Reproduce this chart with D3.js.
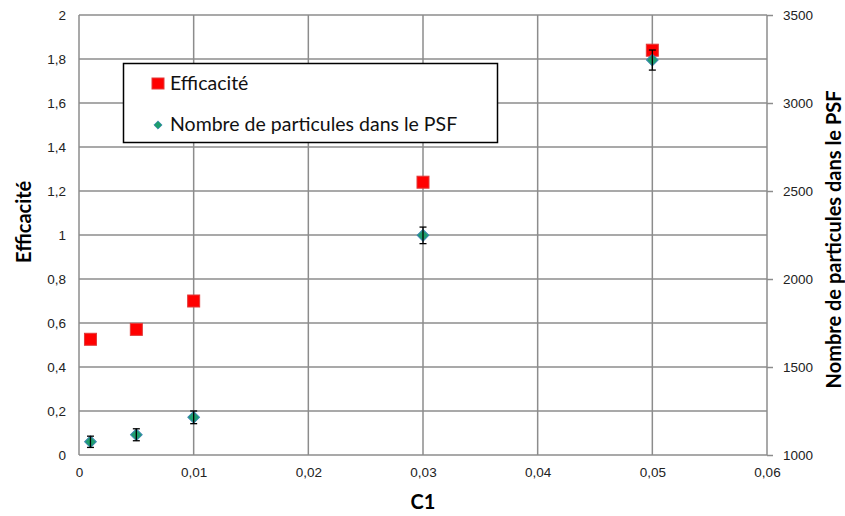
<!DOCTYPE html>
<html>
<head>
<meta charset="utf-8">
<script src="https://cdn.jsdelivr.net/npm/d3@7"></script>
<style>
  body { margin: 0; background: #fff; }
  svg { display: block; font-family: Lato, "Open Sans", sans-serif; }
</style>
</head>
<body>
<svg id="chart" width="845" height="516"></svg>
<script>
// données
var c1 = [0.001, 0.005, 0.01, 0.03, 0.05];
var efficacite = [0.526, 0.571, 0.70, 1.24, 1.84];
var nbParticules = [1075, 1115, 1214, 2248, 3244];
var nbErreur = [32, 34, 36, 47, 57];

var xTicks = [0, 0.01, 0.02, 0.03, 0.04, 0.05, 0.06];
var yTicks = [0, 0.2, 0.4, 0.6, 0.8, 1, 1.2, 1.4, 1.6, 1.8, 2];
var y2Ticks = [1000, 1500, 2000, 2500, 3000, 3500];

var serieNames = ["Efficacité", "Nombre de particules dans le PSF"];

var margin = { top: 15, right: 78, bottom: 61, left: 79 };
var width = 845, height = 516;

var fr = d3.formatLocale({ decimal: ",", thousands: "", grouping: [3], currency: ["", "€"] });
var fmt = function(d) { return fr.format("~g")(d); };

var svg = d3.select("#chart");

var x = d3.scaleLinear()
	.domain([0, 0.06])
	.range([margin.left, width - margin.right]);

var y = d3.scaleLinear()
	.domain([0, 2])
	.range([height - margin.bottom, margin.top]);

var y2 = d3.scaleLinear()
	.domain([1000, 3500])
	.range([height - margin.bottom, margin.top]);

var gridColor = "#8c8c8c";

// grille horizontale
svg.append("g")
	.selectAll("line")
	.data(yTicks)
	.enter().append("line")
	.attr("x1", x(0))
	.attr("x2", x(0.06))
	.attr("y1", function(d) { return y(d); })
	.attr("y2", function(d) { return y(d); })
	.attr("stroke", gridColor)
	.attr("stroke-width", 1.5);

// grille verticale
svg.append("g")
	.selectAll("line")
	.data(xTicks)
	.enter().append("line")
	.attr("x1", function(d) { return x(d); })
	.attr("x2", function(d) { return x(d); })
	.attr("y1", y(0))
	.attr("y2", y(2))
	.attr("stroke", gridColor)
	.attr("stroke-width", 1.5);

// axe gauche
var yAxis = svg.append("g")
	.attr("transform", "translate(" + margin.left + ",0)")
	.call(d3.axisLeft(y).tickValues(yTicks).tickFormat(fmt).tickSize(0).tickPadding(13));
yAxis.select(".domain").remove();
yAxis.selectAll("text").attr("font-size", 13.5).attr("fill", "#222");

// axe droit
var y2Axis = svg.append("g")
	.attr("transform", "translate(" + (width - margin.right) + ",0)")
	.call(d3.axisRight(y2).tickValues(y2Ticks).tickFormat(d3.format("d")).tickSize(6).tickPadding(10));
y2Axis.select(".domain").remove();
y2Axis.selectAll("line").attr("stroke", gridColor).attr("stroke-width", 1.5);
y2Axis.selectAll("text").attr("font-size", 13.5).attr("fill", "#222");

// axe bas
var xAxis = svg.append("g")
	.attr("transform", "translate(0," + (height - margin.bottom) + ")")
	.call(d3.axisBottom(x).tickValues(xTicks).tickFormat(fmt).tickSize(0).tickPadding(12));
xAxis.select(".domain").remove();
xAxis.selectAll("text").attr("font-size", 13.5).attr("fill", "#222");

// titres des axes
svg.append("text")
	.attr("transform", "translate(31," + y(1.06) + ") rotate(-90)")
	.attr("text-anchor", "middle")
	.attr("font-size", 20)
	.attr("font-weight", "bold")
	.text("Efficacité");

svg.append("text")
	.attr("x", x(0.03))
	.attr("y", 509)
	.attr("text-anchor", "middle")
	.attr("font-size", 20)
	.attr("font-weight", "bold")
	.text("C1");

svg.append("text")
	.attr("transform", "translate(841," + y(0.98) + ") rotate(-90)")
	.attr("text-anchor", "middle")
	.attr("font-size", 20)
	.attr("font-weight", "bold")
	.text(serieNames[1]);

// série Efficacité (carrés rouges)
svg.append("g")
	.selectAll("rect")
	.data(c1)
	.enter().append("rect")
	.attr("x", function(d) { return x(d) - 6; })
	.attr("y", function(d, i) { return y(efficacite[i]) - 6; })
	.attr("width", 12)
	.attr("height", 12)
	.attr("fill", "#ff0000")
	.attr("stroke", "#e23a3a")
	.attr("stroke-width", 1);

// série Nombre de particules (losanges verts)
svg.append("g")
	.selectAll("path")
	.data(c1)
	.enter().append("path")
	.attr("transform", function(d, i) {
		return "translate(" + x(d) + "," + y2(nbParticules[i]) + ") rotate(45)";
	})
	.attr("d", d3.symbol().type(d3.symbolSquare).size(68))
	.attr("fill", "#1e9e6e")
	.attr("stroke", "#3a86b0")
	.attr("stroke-width", 1);

// barres d'erreur
var err = svg.append("g")
	.attr("stroke", "#000")
	.attr("stroke-width", 1.3);
c1.forEach(function(d, i) {
	var lo = y2(nbParticules[i] - nbErreur[i]);
	var hi = y2(nbParticules[i] + nbErreur[i]);
	var cx = x(d);
	err.append("line").attr("x1", cx).attr("x2", cx).attr("y1", lo).attr("y2", hi);
	err.append("line").attr("x1", cx - 3.5).attr("x2", cx + 3.5).attr("y1", lo).attr("y2", lo);
	err.append("line").attr("x1", cx - 3.5).attr("x2", cx + 3.5).attr("y1", hi).attr("y2", hi);
});

// légende
var legend = svg.append("g");
legend.append("rect")
	.attr("x", 123.5)
	.attr("y", 63.5)
	.attr("width", 374)
	.attr("height", 79)
	.attr("fill", "#fff")
	.attr("stroke", "#000")
	.attr("stroke-width", 1.5);

legend.append("rect")
	.attr("x", 152)
	.attr("y", 78)
	.attr("width", 12)
	.attr("height", 11)
	.attr("fill", "#ff0000")
	.attr("stroke", "#e23a3a");

legend.append("path")
	.attr("transform", "translate(158,125) rotate(45)")
	.attr("d", d3.symbol().type(d3.symbolSquare).size(34))
	.attr("fill", "#1e9e6e")
	.attr("stroke", "#3a86b0")
	.attr("stroke-width", 0.8);

legend.selectAll("text.leg")
	.data(serieNames)
	.enter().append("text")
	.attr("class", "leg")
	.attr("x", 170)
	.attr("y", function(d, i) { return 90 + i * 41; })
	.attr("font-size", 19.5)
	.attr("fill", "#111")
	.text(function(d) { return d; });
</script>
</body>
</html>
